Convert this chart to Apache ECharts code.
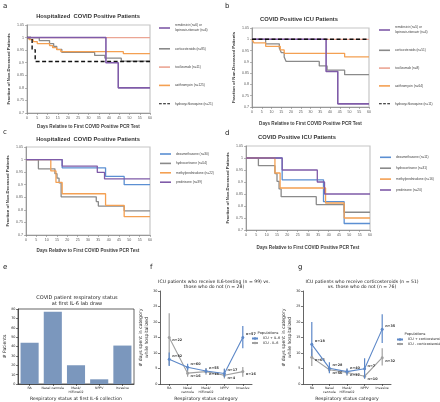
<!DOCTYPE html>
<html><head><meta charset="utf-8">
<script src="https://cdn.jsdelivr.net/npm/echarts@6/dist/echarts.min.js"></script>
<style>html,body{margin:0;padding:0;background:#fff}#c{width:440px;height:402px}</style>
</head><body><div id="c"></div>
<script>
// ---------- DATA ----------
// Panel a: Hospitalized COVID Positive Patients (day, fraction surviving)
const aRemdesivir = [[0,1],[38.5,0.9],[44.5,0.8],[60,0.8]];
const aCorticosteroids = [[0,1],[6,0.988],[11,0.976],[13,0.965],[14.5,0.953],[17,0.941],[33,0.929],[38,0.918],[46,0.906],[60,0.906]];
const aTocilizumab = [[0,1],[60,1]];
const aAzithromycin = [[0,1],[1,0.992],[3,0.984],[5,0.976],[11,0.968],[12.5,0.96],[14.5,0.952],[16.5,0.944],[47,0.936],[60,0.936]];
const aHydroxychloroquine = [[0,1],[2.5,0.952],[4,0.905],[60,0.905]];
// Panel b: COVID Positive ICU Patients
const bRemdesivir = [[0,1],[38,0.857],[44,0.714],[60,0.714]];
const bCorticosteroids = [[0,1],[7,0.98],[14,0.961],[15,0.941],[16.5,0.922],[17.5,0.902],[34.5,0.882],[38.5,0.863],[47.5,0.843],[60,0.843]];
const bTocilizumab = [[0,1],[60,1]];
const bAzithromycin = [[0,1],[1,0.984],[7,0.969],[14.5,0.953],[16.5,0.938],[47.5,0.922],[60,0.922]];
const bHydroxychloroquine = [[0,1],[60,1]];
// Panel c: Hospitalized, corticosteroids
const cDexamethasone = [[0,1],[17.5,0.967],[38.5,0.933],[47.5,0.9],[60,0.9]];
const cHydrocortisone = [[0,1],[6,0.963],[14,0.944],[15,0.926],[16,0.907],[17,0.852],[34,0.833],[35,0.815],[47.5,0.796],[60,0.796]];
const cMethylpred = [[0,1],[12,0.955],[14.5,0.909],[17.5,0.864],[38.5,0.818],[47.5,0.773],[60,0.773]];
const cPrednisone = [[0,1],[17.5,0.974],[34.5,0.949],[38,0.923],[60,0.923]];
// Panel d: ICU, corticosteroids
const dDexamethasone = [[0,1],[17.5,0.909],[37.5,0.818],[47.5,0.727],[60,0.727]];
const dHydrocortisone = [[0,1],[6,0.968],[14,0.935],[15,0.903],[16,0.871],[17,0.839],[34,0.806],[47.5,0.774],[60,0.774]];
const dMethylpred = [[0,1],[14,0.9375],[16.5,0.875],[38.5,0.8125],[47.5,0.75],[60,0.75]];
const dPrednisone = [[0,1],[17.5,0.95],[34.5,0.9],[38,0.85],[60,0.85]];
// Panel e
const eCategories = ['RA','Nasal cannula','Mask/\nHiFlowO2','NPPV','Invasive'];
const ePatients = [44,77,20,5,41];
// Panels f, g
const fgCategories = ['RA','Nasal\ncannula','Mask/\nHiFlowO2','NPPV','Invasive'];
const fPlusMean = [8.0,5.4,4.2,3.4,15.0];
const fPlusLow  = [5.8,4.4,3.5,2.2,11.5];
const fPlusHigh = [10.2,6.5,5.0,4.8,18.7];
const fPlusN = ['n=82','n=60','n=55','n=17','n=57'];
const fMinusMean = [15.0,3.5,4.0,2.8,4.0];
const fMinusLow  = [6.0,2.3,3.0,1.8,2.3];
const fMinusHigh = [22.8,4.8,5.2,5.0,5.5];
const fMinusN = ['n=22','n=16','n=18','n=4','n=16'];
const gPlusMean = [12.8,5.1,4.0,4.9,17.7];
const gPlusLow  = [9.0,3.5,3.0,1.8,13.2];
const gPlusHigh = [20.0,7.0,5.0,8.3,22.5];
const gPlusN = ['n=18','n=28','n=40','n=7','n=35'];
const gMinusMean = [8.6,4.6,3.7,2.5,8.5];
const gMinusLow  = [5.8,3.8,2.7,1.7,6.0];
const gMinusHigh = [11.3,5.4,4.9,3.4,11.5];
const gMinusN = ['n=65','n=56','n=37','n=10','n=32'];

// ---------- STYLE ----------
const C = {purple:'#7f5ba8', gray:'#8a8a8a', salmon:'#eba594', orange:'#f4a052', black:'#111',
           blue:'#5b8fd2', bar:'#7b97bd', sBlue:'#5d88c8', sGray:'#a0a0a0'};
const KMF = 'Liberation Sans, Arial, sans-serif';
const MPF = 'DejaVu Sans, sans-serif';
const DASH_ICON = 'path://M0,0h4v1.6h-4z M6,0h4v1.6h-4z M12,0h4v1.6h-4z';

const grids = [
  {left:27, top:25, width:123, height:88},   // a
  {left:252, top:28, width:117, height:79},  // b
  {left:26, top:147, width:124, height:88},  // c
  {left:246, top:146, width:124, height:84}, // d
  {left:18, top:309, width:116, height:75},  // e
  {left:160, top:291, width:92, height:94},  // f
  {left:303, top:291, width:88, height:94}   // g
];
grids.forEach((g,i)=>{ g.containLabel=false; if(i<4){g.show=true;g.borderColor='#c6c6c6';g.borderWidth=1.2;} if(i===4){g.show=true;g.borderColor='#222';g.borderWidth=0.7;} });

function kmX(gi, gap){ return {type:'value', gridIndex:gi, min:0, max:60, interval:5,
  name:'Days Relative to First COVID Positive PCR Test', nameLocation:'middle', nameGap:gap,
  nameTextStyle:{fontSize:4.6, fontWeight:'bold', color:'#404040', fontFamily:KMF},
  axisLine:{lineStyle:{color:'#868686', width:0.8}}, axisTick:{show:true, length:2, lineStyle:{color:'#868686', width:0.6}},
  axisLabel:{fontSize:3.6, color:'#595959', margin:3, fontFamily:KMF}, splitLine:{show:false}}; }
function kmY(gi, gap){ return {type:'value', gridIndex:gi, min:0.7, max:1.05, interval:0.05,
  name:'Fraction of Non-Deceased Patients', nameLocation:'middle', nameGap:gap, nameRotate:90,
  nameTextStyle:{fontSize:4.3, fontWeight:'bold', color:'#404040', fontFamily:KMF},
  axisLine:{show:true, lineStyle:{color:'#868686', width:0.8}}, axisTick:{show:true, length:2, lineStyle:{color:'#868686', width:0.6}},
  axisLabel:{fontSize:3.6, color:'#595959', margin:3, fontFamily:KMF, formatter:v=>String(+(+v).toFixed(2))}, splitLine:{show:false}}; }

function km(gi, name, data, color, width, dashed, z){
  return {type:'line', name, xAxisIndex:gi, yAxisIndex:gi, data, step:'end', showSymbol:false, symbol:'none', z:z||2,
    lineStyle:{color, width, type: dashed ? [4,2.5] : 'solid'}, itemStyle:{color}};
}

const series = [
  km(0,'remdesivir (n=6) or\nlopinavir-ritonavir (n=6)', aRemdesivir, C.purple, 1.6, false, 6),
  km(0,'corticosteroids (n=85)', aCorticosteroids, C.gray, 1.3, false, 3),
  km(0,'tocilizumab (n=11)', aTocilizumab, C.salmon, 1.3, false, 2),
  km(0,'azithromycin (n=125)', aAzithromycin, C.orange, 1.3, false, 4),
  km(0,'hydroxychloroquine (n=21)', aHydroxychloroquine, C.black, 1.4, true, 5),
  km(1,'remdesivir (n=5) or\nlopinavir-ritonavir (n=4)', bRemdesivir, C.purple, 1.6, false, 4),
  km(1,'corticosteroids (n=51)', bCorticosteroids, C.gray, 1.3, false, 3),
  km(1,'tocilizumab (n=8)', bTocilizumab, C.salmon, 1.3, false, 2),
  km(1,'azithromycin (n=64)', bAzithromycin, C.orange, 1.3, false, 3),
  km(1,'hydroxychloroquine (n=11)', bHydroxychloroquine, C.black, 1.4, true, 5),
  km(2,'dexamethasone (n=30)', cDexamethasone, C.blue, 1.3, false, 3),
  km(2,'hydrocortisone (n=54)', cHydrocortisone, C.gray, 1.3, false, 3),
  km(2,'methylprednisolone (n=22)', cMethylpred, C.orange, 1.3, false, 4),
  km(2,'prednisone (n=39)', cPrednisone, C.purple, 1.3, false, 5),
  km(3,'dexamethasone (n=11)', dDexamethasone, C.blue, 1.3, false, 3),
  km(3,'hydrocortisone (n=31)', dHydrocortisone, C.gray, 1.3, false, 3),
  km(3,'methylprednisolone (n=16)', dMethylpred, C.orange, 1.3, false, 4),
  km(3,'prednisone (n=20)', dPrednisone, C.purple, 1.3, false, 5),
  {type:'bar', xAxisIndex:4, yAxisIndex:4, data:ePatients, barCategoryGap:'22%', itemStyle:{color:C.bar}}
];

function errSeries(gi, low, high, color, z){
  return {type:'custom', xAxisIndex:gi, yAxisIndex:gi, z, silent:true,
    data: low.map((l,i)=>[i,l,high[i]]), encode:{x:0, y:[1,2]},
    renderItem:(params, api)=>{ const p1=api.coord([api.value(0),api.value(1)]); const p2=api.coord([api.value(0),api.value(2)]);
      return {type:'line', shape:{x1:p1[0],y1:p1[1],x2:p2[0],y2:p2[1]}, style:{stroke:color, lineWidth:1.2}}; }};
}
function ptSeries(gi, name, mean, nlab, color, z, off){
  return {type:'line', name, xAxisIndex:gi, yAxisIndex:gi, data:mean, z, symbol:'circle', symbolSize:3,
    lineStyle:{color, width:1.1}, itemStyle:{color},
    label:{show:true, position:'right', distance:1.5, offset:off, fontSize:3.4, fontWeight:'bold', color:'#333', fontFamily:MPF,
      formatter:p=>nlab[p.dataIndex]}};
}
series.push(errSeries(5, fMinusLow, fMinusHigh, C.sGray, 3), ptSeries(5,'ICU - IL-6', fMinusMean, fMinusN, C.sGray, 4, [0,3]));
series.push(errSeries(5, fPlusLow, fPlusHigh, C.sBlue, 5), ptSeries(5,'ICU + IL-6', fPlusMean, fPlusN, C.sBlue, 6, [0,-3]));
series.push(errSeries(6, gMinusLow, gMinusHigh, C.sGray, 3), ptSeries(6,'ICU - corticosteroids', gMinusMean, gMinusN, C.sGray, 4, [0,3]));
series.push(errSeries(6, gPlusLow, gPlusHigh, C.sBlue, 5), ptSeries(6,'ICU + corticosteroids', gPlusMean, gPlusN, C.sBlue, 6, [0,-3]));

function catX(gi, cats, name, nameGap, labelSize){ return {type:'category', gridIndex:gi, data:cats,
  name, nameLocation:'middle', nameGap, nameTextStyle:{fontSize:4.6, color:'#222', fontFamily:MPF},
  axisLine:{lineStyle:{color:'#222', width:0.7}}, axisTick:{show:true, alignWithLabel:true, length:2, lineStyle:{color:'#222', width:0.6}},
  axisLabel:{fontSize:labelSize, color:'#222', margin:2.5, interval:0, lineHeight:4, fontFamily:MPF}}; }
function valY(gi, max, interval, name, nameGap){ return {type:'value', gridIndex:gi, min:0, max, interval,
  name, nameLocation:'middle', nameGap, nameRotate:90, nameTextStyle:{fontSize:4.6, color:'#222', fontFamily:MPF, lineHeight:5.5},
  axisLine:{show:true, lineStyle:{color:'#222', width:0.7}}, axisTick:{show:true, length:2, lineStyle:{color:'#222', width:0.6}},
  axisLabel:{fontSize:3.4, color:'#222', margin:2.5, fontFamily:MPF}, splitLine:{show:false}}; }

const xAxis = [kmX(0,11), kmX(1,14), kmX(2,13), kmX(3,15),
  catX(4, eCategories, 'Respiratory status at first IL-6 collection', 12, 3.2),
  catX(5, fgCategories, 'Respiratory status category', 12, 3.2),
  catX(6, fgCategories, 'Respiratory status category', 12, 3.2)];
const yAxis = [kmY(0,16), kmY(1,16), kmY(2,16), kmY(3,16),
  valY(4, 80, 10, '# Patients', 8),
  valY(5, 30, 5, '# days spent in category\nwhile hospitalized', 8),
  valY(6, 30, 5, '# days spent in category\nwhile hospitalized', 8)];

function kmLegend(items, left, top, gap){ return {orient:'vertical', left, top, itemWidth:11, itemHeight:1.6, itemGap:gap,
  data:items.map(s=>({name:s.name, icon: s.lineStyle.type==='solid' ? 'rect' : DASH_ICON})),
  textStyle:{fontSize:3.2, color:'#404040', fontFamily:KMF, lineHeight:5}, padding:0, selectedMode:false}; }
const legend = [
  kmLegend(series.slice(0,5), 159, 23, 13.3),
  kmLegend(series.slice(5,10), 379, 25, 12.8),
  kmLegend(series.slice(10,14), 160, 151.5, 4.4),
  kmLegend(series.slice(14,18), 380, 154.8, 5.9),
  {orient:'vertical', left:251, top:337, itemWidth:6, itemHeight:3, itemGap:1.5, padding:0, selectedMode:false,
    data:['ICU + IL-6','ICU - IL-6'], textStyle:{fontSize:3.4, color:'#222', fontFamily:MPF}},
  {orient:'vertical', left:396, top:338, itemWidth:6, itemHeight:3, itemGap:1.5, padding:0, selectedMode:false,
    data:['ICU + corticosteroids','ICU - corticosteroids'], textStyle:{fontSize:3.4, color:'#222', fontFamily:MPF}}
];

function txt(x, y, text, size, weight, family, align, color){
  return {type:'text', x, y, silent:true, style:{text, fontSize:size, fontWeight:weight||'normal', fontFamily:family,
    fill:color||'#222', textAlign:align||'center', textVerticalAlign:'middle', lineHeight:size*1.15}};
}
const graphic = [
  txt(3,6,'a',7,'normal',MPF,'left'), txt(225,6,'b',7,'normal',MPF,'left'),
  txt(3,132,'c',7,'normal',MPF,'left'), txt(225,133,'d',7,'normal',MPF,'left'),
  txt(3,267,'e',7,'normal',MPF,'left'), txt(150,267,'f',7,'normal',MPF,'left'), txt(298,267,'g',7,'normal',MPF,'left'),
  txt(88,16,'Hospitalized  COVID Positive Patients',5.8,'bold',KMF,'center','#333'),
  txt(299,19,'COVID Positive ICU Patients',5.8,'bold',KMF,'center','#333'),
  txt(88,139,'Hospitalized  COVID Positive Patients',5.8,'bold',KMF,'center','#333'),
  txt(297,137,'COVID Positive ICU Patients',5.8,'bold',KMF,'center','#333'),
  txt(77,301,'COVID patient respiratory status\nat first IL-6 lab draw',5,'normal',MPF,'center'),
  txt(214,284,'ICU patients who receive IL6-testing (n = 99) vs.\nthose who do not (n = 28)',4.6,'normal',MPF,'center'),
  txt(362,284,'ICU patients who receive corticosteroids (n = 51)\nvs. those who do not (n = 76)',4.6,'normal',MPF,'center'),
  txt(268,333,'Populations',3.6,'normal',MPF,'center'),
  txt(415,334,'Populations',3.6,'normal',MPF,'center')
];

const chart = echarts.init(document.getElementById('c'), null, {renderer:'canvas'});
chart.setOption({animation:false, backgroundColor:'#fff', grid:grids, xAxis, yAxis, legend, series, graphic});
</script></body></html>
